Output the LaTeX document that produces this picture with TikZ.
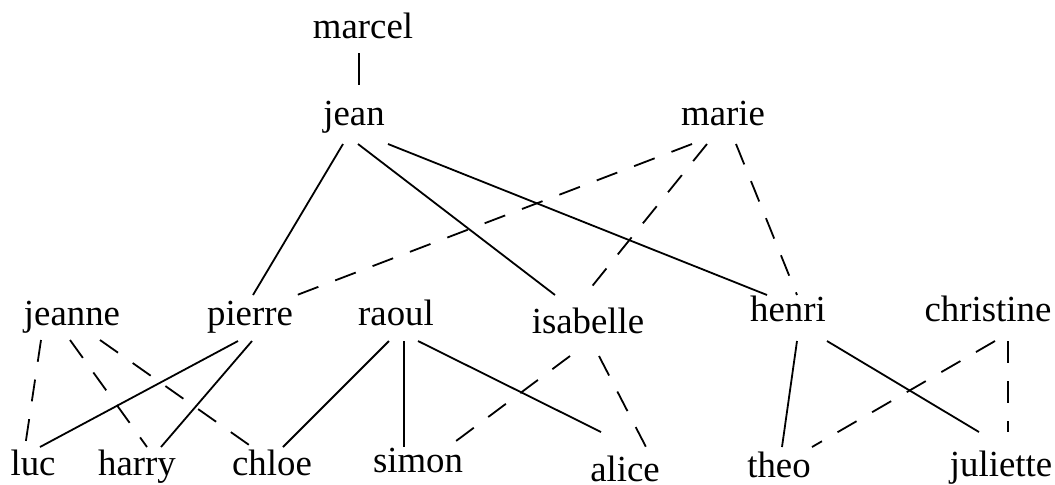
\documentclass[tikz,border=0pt]{standalone}
\usepackage{fontspec}
\setmainfont{Liberation Serif}
\usetikzlibrary{calc}
\begin{document}
\begin{tikzpicture}[x=0.5pt,y=-0.5pt,
  person/.style={anchor=base,inner sep=0pt,font=\fontsize{18.4}{22}\selectfont},
  tie/.style={line width=0.9pt},
  dashtie/.style={line width=0.9pt,dash pattern=on 11pt off 9pt}]
\useasboundingbox[fill=white] (0,0) rectangle (1055,484);
\node[person] (marcel) at (363,38) {marcel};
\node[person] (jean) at (354,125) {jean};
\node[person] (marie) at (723,125) {marie};
\node[person] (jeanne) at (72,325) {jeanne};
\node[person] (pierre) at (250,325) {pierre};
\node[person] (raoul) at (396,325) {raoul};
\node[person] (isabelle) at (588,333) {isabelle};
\node[person] (henri) at (788,321) {henri};
\node[person] (christine) at (988,321) {christine};
\node[person] (luc) at (33,475) {luc};
\node[person] (harry) at (137,475) {harry};
\node[person] (chloe) at (272,475) {chloe};
\node[person] (simon) at (418,472) {simon};
\node[person] (alice) at (625,481) {alice};
\node[person] (theo) at (779,477) {theo};
\node[person] (juliette) at (1001,476) {juliette};
% solid
\draw[tie] ($(marcel.base)+(-4,15)$) -- ($(jean.base)+(5,-40)$);
\draw[tie] ($(jean.base)+(-11,19)$) -- ($(pierre.base)+(3,-30)$);
\draw[tie] ($(jean.base)+(4,19)$) -- ($(isabelle.base)+(-33,-38)$);
\draw[tie] ($(jean.base)+(34,19)$) -- ($(henri.base)+(-21,-26)$);
\draw[tie] ($(pierre.base)+(-12,16)$) -- ($(luc.base)+(7,-28)$);
\draw[tie] ($(pierre.base)+(2,16)$) -- ($(harry.base)+(24,-28)$);
\draw[tie] ($(raoul.base)+(-7,16)$) -- ($(chloe.base)+(11,-28)$);
\draw[tie] ($(raoul.base)+(8,16)$) -- ($(simon.base)+(-14,-25)$);
\draw[tie] ($(raoul.base)+(22,16)$) -- ($(alice.base)+(-24,-49)$);
\draw[tie] ($(henri.base)+(9,20)$) -- ($(theo.base)+(3,-30)$);
\draw[tie] ($(henri.base)+(39,20)$) -- ($(juliette.base)+(-22,-44)$);
% dashed
\draw[dashtie] ($(marie.base)+(-31,19)$) -- ($(pierre.base)+(47,-30)$);
\draw[dashtie] ($(marie.base)+(-16,19)$) -- ($(isabelle.base)+(-3,-38)$);
\draw[dashtie] ($(marie.base)+(13,19)$) -- ($(henri.base)+(9,-26)$);
\draw[dashtie] ($(jeanne.base)+(-31,15)$) -- ($(luc.base)+(-8,-28)$);
\draw[dashtie] ($(jeanne.base)+(-2,15)$) -- ($(harry.base)+(10,-28)$);
\draw[dashtie] ($(jeanne.base)+(28,15)$) -- ($(chloe.base)+(-20,-28)$);
\draw[dashtie] ($(isabelle.base)+(-18,23)$) -- ($(simon.base)+(30,-25)$);
\draw[dashtie] ($(isabelle.base)+(11,23)$) -- ($(alice.base)+(21,-34)$);
\draw[dashtie] ($(christine.base)+(7,20)$) -- ($(theo.base)+(33,-30)$);
\draw[dashtie] ($(christine.base)+(20,20)$) -- ($(juliette.base)+(7,-44)$);
\end{tikzpicture}
\end{document}
